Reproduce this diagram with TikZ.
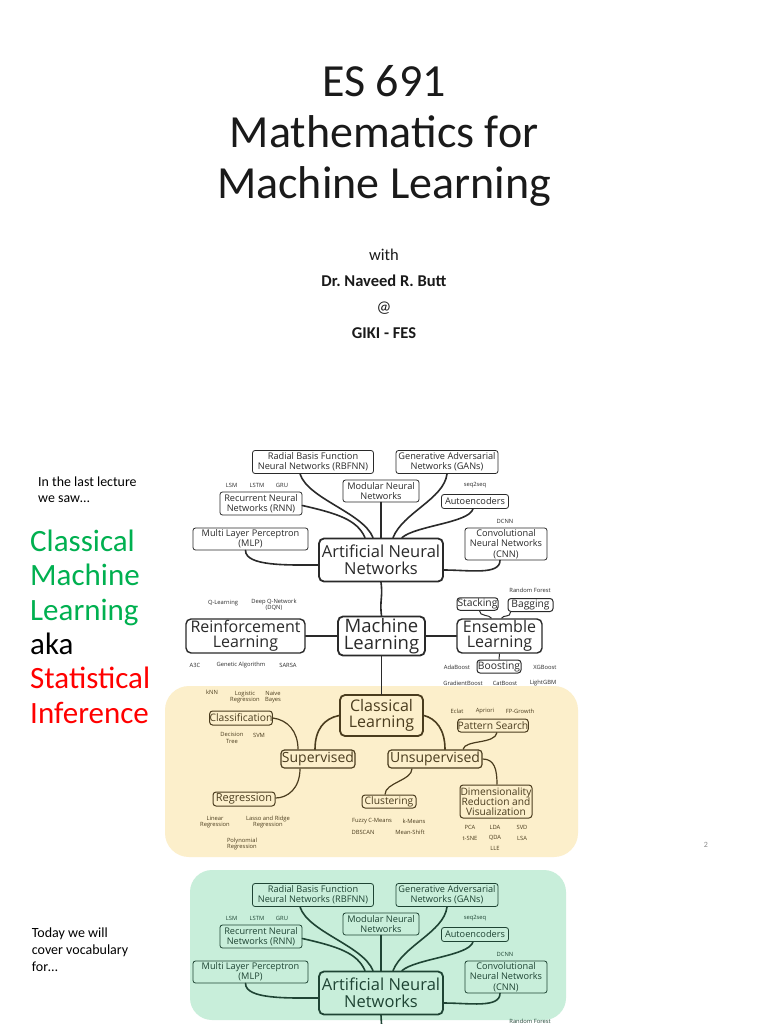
\documentclass[tikz,border=0pt]{standalone}
\usepackage{fontspec}
\setmainfont{Carlito}
\newfontfamily\osans{Open Sans}
\usetikzlibrary{calc}
\frenchspacing
\definecolor{mlgreen}{HTML}{00B050}
\definecolor{mlred}{HTML}{FF0000}
\definecolor{ylbg}{HTML}{FCEFCB}
\definecolor{grbg}{HTML}{C8EEDA}
\definecolor{inkA}{HTML}{2A2A2A}
\definecolor{inkY}{HTML}{4A3C1E}
\definecolor{inkG}{HTML}{1F4434}
\definecolor{pagegray}{HTML}{8A8A8A}
\definecolor{titleink}{HTML}{1A1A1A}
\tikzset{
  box/.style={draw, rounded corners=2.5pt, line width=0.8pt, align=center, inner sep=0pt,
    font=\osans\fontsize{9.2}{10.3}\selectfont},
  midbox/.style={draw, rounded corners=3pt, line width=1pt, align=center, inner sep=0pt,
    font=\osans\fontsize{10.3}{10.8}\selectfont},
  subbox/.style={draw, rounded corners=3.5pt, line width=1.2pt, align=center, inner sep=0pt,
    font=\osans\fontsize{14}{14}\selectfont},
  bigbox/.style={draw, rounded corners=5pt, line width=1.8pt, align=center, inner sep=0pt},
  tag/.style={align=center, inner sep=0pt, font=\osans\fontsize{5.8}{6.5}\selectfont},
  link/.style={line width=1.6pt, line cap=round},
}
\newcommand{\annpart}[2]{%
  % #1 prefix, #2 ink colour
  \node[box, draw=#2, text=#2, minimum width=121pt, minimum height=23pt] (#1rbf) at (313,462) {Radial Basis Function\\Neural Networks (RBFNN)};
  \node[box, draw=#2, text=#2, minimum width=102pt, minimum height=23pt] (#1gan) at (447,462) {Generative Adversarial\\Networks (GANs)};
  \node[box, draw=#2, text=#2, minimum width=76pt, minimum height=22pt] (#1mod) at (381,491) {Modular Neural\\Networks};
  \node[box, draw=#2, text=#2, minimum width=82pt, minimum height=23pt] (#1rnn) at (261,503.5) {Recurrent Neural\\Networks (RNN)};
  \node[box, draw=#2, text=#2, minimum width=67pt, minimum height=14pt] (#1auto) at (475,501.5) {Autoencoders};
  \node[box, draw=#2, text=#2, minimum width=115pt, minimum height=22pt] (#1mlp) at (250.5,539) {Multi Layer Perceptron\\(MLP)};
  \node[box, draw=#2, text=#2, minimum width=82pt, minimum height=32pt] (#1cnn) at (506,544) {Convolutional\\Neural Networks\\(CNN)};
  \node[bigbox, draw=#2, text=#2, minimum width=124pt, minimum height=43pt, font=\osans\fontsize{16.5}{17}\selectfont] (#1ann) at (381,560) {Artificial Neural\\Networks};
  \node[tag, text=#2] (#1lsm) at (231.7,485) {LSM};
  \node[tag, text=#2] (#1lstm) at (257,485) {LSTM};
  \node[tag, text=#2] (#1gru) at (282,485) {GRU};
  \node[tag, text=#2] (#1sts) at (475,485) {seq2seq};
  \node[tag, text=#2] (#1dcnn) at (505,521.7) {DCNN};
  \draw[link, #2] ($(#1rbf.south)+(-13,0)$) .. controls +(8,25) and +(-10,-25) .. ($(#1ann.north)+(-8,0)$);
  \draw[link, #2] (#1gan.south) .. controls +(-3,25) and +(10,-25) .. ($(#1ann.north)+(12,0)$);
  \draw[link, #2] (#1mod.south) -- (#1ann.north);
  \draw[link, #2] ($(#1rnn.east)+(0,2)$) .. controls +(35,8) and +(-8,-18) .. ($(#1ann.north)+(-16,0)$);
  \draw[link, #2] ($(#1auto.south)+(-2,0)$) .. controls +(-4,14) and +(14,-12) .. ($(#1ann.north)+(21,0)$);
  \draw[link, #2] ($(#1mlp.south)+(-5,0)$) .. controls +(0,16) and +(-30,0) .. ($(#1ann.west)+(0,5)$);
  \draw[link, #2] ($(#1cnn.south)+(-6,0)$) .. controls +(0,15) and +(25,0) .. ($(#1ann.east)+(0,10)$);
}
\begin{document}
\begin{tikzpicture}[x=1pt, y=-1pt]
\useasboundingbox (0,0) rectangle (768,1024);
\clip (0,0) rectangle (768,1024);
\fill[white] (0,0) rectangle (768,1024);

% ---------- title ----------
\node[anchor=base, align=center, inner sep=0pt, text=titleink, font=\fontsize{46}{51}\selectfont] (title) at (384,198.3) {ES 691\\Mathematics for\\Machine Learning};
\node[anchor=base, align=center, inner sep=0pt, text=titleink, font=\fontsize{16.5}{26}\selectfont] (sub) at (384,338.3) {with\\\textbf{Dr. Naveed R. Butt}\\@\\\textbf{GIKI - FES}};

% ---------- left texts ----------
\node[anchor=base west, align=left, inner sep=0pt, font=\fontsize{13.9}{16.7}\selectfont] (last) at (38,502.7) {In the last lecture\\we saw\ldots};
\node[anchor=base west, align=left, inner sep=0pt, font=\fontsize{31}{34.3}\selectfont] (cml) at (30,723)
  {\textcolor{mlgreen}{Classical}\\\textcolor{mlgreen}{Machine}\\\textcolor{mlgreen}{Learning}\\aka\\\textcolor{mlred}{Statistical}\\\textcolor{mlred}{Inference}};
\node[anchor=base west, align=left, inner sep=0pt, font=\fontsize{14}{17}\selectfont] (today) at (31.7,971.7) {Today we will\\cover vocabulary\\for\ldots};
\node[inner sep=0pt, text=pagegray, font=\fontsize{8}{8}\selectfont] (pnum) at (706,845) {2};

% ---------- backgrounds ----------
\fill[ylbg, rounded corners=24pt] (165,686) rectangle (578,857);
\fill[grbg, rounded corners=22pt] (190,870) rectangle (566,1020);

% ---------- top ANN part ----------
\annpart{t}{inkA}

% ---------- machine learning row ----------
\node[bigbox, draw=inkA, text=inkA, minimum width=87pt, minimum height=39pt, font=\osans\fontsize{18.5}{17}\selectfont] (ml) at (381.5,636) {Machine\\Learning};
\node[bigbox, line width=1.4pt, draw=inkA, text=inkA, minimum width=119pt, minimum height=34pt, font=\osans\fontsize{16}{15}\selectfont] (rl) at (245.5,636) {Reinforcement\\Learning};
\node[bigbox, line width=1.4pt, draw=inkA, text=inkA, minimum width=85pt, minimum height=34pt, font=\osans\fontsize{16}{15}\selectfont] (el) at (499.5,636) {Ensemble\\Learning};
\node[midbox, draw=inkA, text=inkA, minimum width=41pt, minimum height=12.5pt] (stack) at (477.5,604) {Stacking};
\node[midbox, draw=inkA, text=inkA, minimum width=45pt, minimum height=13pt] (bag) at (530.5,605) {Bagging};
\node[midbox, draw=inkA, text=inkA, minimum width=44pt, minimum height=13pt] (boost) at (499,666.5) {Boosting};
\node[tag, text=inkA] (ql) at (223,603) {Q-Learning};
\node[tag, text=inkA] (dqn) at (274,605) {Deep Q-Network\\(DQN)};
\node[tag, text=inkA] (rf) at (530,590) {Random Forest};
\node[tag, text=inkA] (a3c) at (195,665) {A3C};
\node[tag, text=inkA] (ga) at (241,665) {Genetic Algorithm};
\node[tag, text=inkA] (sarsa) at (288,665) {SARSA};
\node[tag, text=inkA] (ada) at (457,667) {AdaBoost};
\node[tag, text=inkA] (xgb) at (545,667) {XGBoost};
\node[tag, text=inkA] (gb) at (463,683) {GradientBoost};
\node[tag, text=inkA] (cb) at (505,683) {CatBoost};
\node[tag, text=inkA] (lgbm) at (543,683) {LightGBM};
\draw[link, inkA] (tann.south) .. controls +(2,15) and +(-2,-15) .. (ml.north);
\draw[link, inkA] (rl.east) -- (ml.west);
\draw[link, inkA] (ml.east) -- (el.west);
\draw[line width=1pt, inkA] ($(stack.south)+(2,0)$) .. controls +(0,6) and +(-2,-4) .. ($(el.north)+(-8,0)$);
\draw[line width=1pt, inkA] ($(bag.south)+(-20,0)$) .. controls +(0,6) and +(2,-4) .. ($(el.north)+(2,0)$);
\draw[line width=1pt, inkA] (boost.north) -- (el.south);

% ---------- classical learning (yellow) ----------
\node[bigbox, draw=inkY, text=inkY, minimum width=83pt, minimum height=41pt, font=\osans\fontsize{16}{15.5}\selectfont] (cl) at (381.5,715.5) {Classical\\Learning};
\draw[link, inkA] (ml.south) -- (cl.north);
\node[subbox, draw=inkY, text=inkY, minimum width=74pt, minimum height=18pt] (sup) at (318,759) {Supervised};
\node[subbox, draw=inkY, text=inkY, minimum width=94pt, minimum height=18pt] (uns) at (435,759) {Unsupervised};
\node[midbox, draw=inkY, text=inkY, minimum width=62pt, minimum height=14pt] (cls) at (241,718) {Classification};
\node[midbox, draw=inkY, text=inkY, minimum width=70pt, minimum height=13pt] (pat) at (493,725.5) {Pattern Search};
\node[midbox, draw=inkY, text=inkY, minimum width=62pt, minimum height=14pt, font=\osans\fontsize{11}{11}\selectfont] (reg) at (244,799) {Regression};
\node[midbox, draw=inkY, text=inkY, minimum width=54pt, minimum height=13pt] (clu) at (389,801.5) {Clustering};
\node[midbox, draw=inkY, text=inkY, minimum width=72pt, minimum height=33pt, font=\osans\fontsize{10.2}{10.3}\selectfont] (dim) at (496,801.5) {Dimensionality\\Reduction and\\Visualization};
\node[tag, text=inkY] (knn) at (212,692) {kNN};
\node[tag, text=inkY] (logr) at (245,697) {Logistic\\Regression};
\node[tag, text=inkY] (nb) at (273,697) {Naive\\Bayes};
\node[tag, text=inkY] (dt) at (232,738) {Decision\\Tree};
\node[tag, text=inkY] (svm) at (259,735) {SVM};
\node[tag, text=inkY] (eclat) at (457,711) {Eclat};
\node[tag, text=inkY] (apr) at (485,711) {Apriori};
\node[tag, text=inkY] (fpg) at (520,711) {FP-Growth};
\node[tag, text=inkY] (linr) at (215,822) {Linear\\Regression};
\node[tag, text=inkY] (lasso) at (268,822) {Lasso and Ridge\\Regression};
\node[tag, text=inkY] (poly) at (242,844) {Polynomial\\Regression};
\node[tag, text=inkY] (fcm) at (372,821) {Fuzzy C-Means};
\node[tag, text=inkY] (km) at (414,821) {k-Means};
\node[tag, text=inkY] (dbs) at (363,832) {DBSCAN};
\node[tag, text=inkY] (msh) at (410,832) {Mean-Shift};
\node[tag, text=inkY] (pca) at (470,827) {PCA};
\node[tag, text=inkY] (lda) at (495,827) {LDA};
\node[tag, text=inkY] (svd) at (522,827) {SVD};
\node[tag, text=inkY] (tsne) at (470,838) {t-SNE};
\node[tag, text=inkY] (qda) at (495,838) {QDA};
\node[tag, text=inkY] (lsa) at (522,838) {LSA};
\node[tag, text=inkY] (lle) at (495,848) {LLE};
\draw[link, inkY] (cl.west) .. controls +(-15,3) and +(0,-20) .. ($(sup.north)+(-3,0)$);
\draw[link, inkY] (cl.east) .. controls +(12,3) and +(0,-20) .. ($(uns.north)+(10,0)$);
\draw[line width=1.2pt, inkY] (cls.east) .. controls +(15,2) and +(0,-18) .. ($(sup.north)+(-20,0)$);
\draw[line width=1.2pt, inkY] ($(sup.south)+(-18,0)$) .. controls +(0,20) and +(12,0) .. ($(reg.east)+(0,-1)$);
\draw[line width=1.2pt, inkY] ($(uns.south)+(-23,0)$) .. controls +(0,12) and +(0,-12) .. ($(clu.north)+(-4,0)$);
\draw[line width=1.2pt, inkY] (uns.east) .. controls +(12,0) and +(0,-15) .. ($(dim.north)+(1,0)$);
\draw[line width=1.2pt, inkY] ($(pat.south)+(4,0)$) .. controls +(-2,12) and +(2,-10) .. ($(uns.north)+(28,0)$);

% ---------- bottom ANN part (green) ----------
\begin{scope}[shift={(0,433)}]
  \annpart{g}{inkG}
  \node[tag, text=inkG] (grf) at (530,588) {Random Forest};
  \coordinate (gdown) at (382,600);
  \draw[link, inkG] (gann.south) -- (gdown);
\end{scope}
\end{tikzpicture}
\end{document}
